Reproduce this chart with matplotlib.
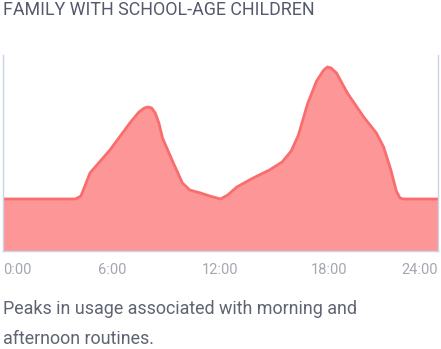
import matplotlib
matplotlib.use("Agg")
import matplotlib.pyplot as plt

plt.rcParams['font.family'] = ['Roboto', 'DejaVu Sans']

# usage over the day (hour, level)
hours = [0, 4.0, 4.3, 4.8, 5.9, 7.0, 7.5, 7.8, 8.0, 8.2, 8.4, 8.6, 8.8, 9.4,
         9.9, 10.3, 10.9, 11.4, 12.0, 12.4, 12.9, 13.8, 14.7, 15.4, 15.9,
         16.3, 16.8, 17.3, 17.7, 17.9, 18.1, 18.4, 19.0, 19.9, 20.6, 21.0,
         21.4, 21.7, 21.9, 22.1, 24]
usage = [52, 52, 55, 78, 101, 128, 139, 143, 144, 143, 138, 128, 113, 88,
         68, 61, 58, 55, 52, 56, 64, 73, 81, 89, 100,
         116, 147, 170, 181, 184, 183, 178, 158, 134, 118, 104,
         81, 60, 53, 52, 52]

tick_hours = [0, 6, 12, 18, 24]
tick_labels = ['0:00', '6:00', '12:00', '18:00', '24:00']

fig = plt.figure(figsize=(4.41, 3.49), dpi=100)
ax = fig.add_axes([3 / 441, 98 / 349, 435 / 441, 196 / 349])

ax.fill_between(hours, usage, 0, color='#fd9797', lw=0)
ax.plot(hours, usage, color='#f96d6d', lw=2, solid_joinstyle='round')

ax.set_xlim(0, 24)
ax.set_ylim(0, 196)
ax.set_yticks([])
ax.set_xticks(tick_hours)
ax.set_xticklabels(tick_labels)
ax.tick_params(axis='x', length=0, pad=9, labelsize=10.5, labelcolor='#a3a7b0')
labels = ax.get_xticklabels()
labels[0].set_horizontalalignment('left')
labels[-1].set_horizontalalignment('right')

ax.spines['top'].set_visible(False)
for side in ['left', 'right', 'bottom']:
    ax.spines[side].set_color('#c9d3ea')
    ax.spines[side].set_linewidth(1)

fig.text(3 / 441, 1 - 10 / 349, 'FAMILY WITH SCHOOL-AGE CHILDREN',
         fontsize=12.9, color='#545a6d', va='center', ha='left')
fig.text(3 / 441, 1 - 309 / 349, 'Peaks in usage associated with morning and',
         fontsize=12.9, color='#5f6472', va='center', ha='left')
fig.text(3 / 441, 1 - 339 / 349, 'afternoon routines.',
         fontsize=12.9, color='#5f6472', va='center', ha='left')

fig.savefig('out.png', dpi=100)
